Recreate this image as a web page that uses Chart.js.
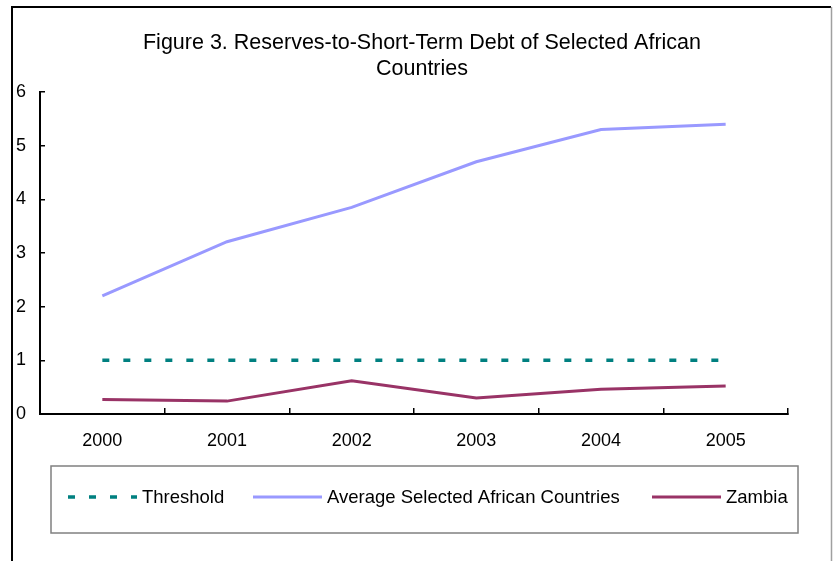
<!DOCTYPE html>
<html>
<head>
<meta charset="utf-8">
<title>Reserves-to-Short-Term Debt</title>
<script src="https://cdn.jsdelivr.net/npm/chart.js@4.4.1/dist/chart.umd.min.js"></script>
<style>
  html, body { margin: 0; padding: 0; background: #fff; }
  canvas { display: block; }
</style>
</head>
<body>
<canvas id="reservesChart" width="833" height="561"></canvas>
<script>
// Data
const years = ['2000', '2001', '2002', '2003', '2004', '2005'];
const threshold = [1, 1, 1, 1, 1, 1];
const averageAfrica = [2.2, 3.21, 3.85, 4.7, 5.3, 5.4];
const zambia = [0.27, 0.24, 0.62, 0.3, 0.46, 0.52];
const yMin = 0;
const yMax = 6;
const yStep = 1;
const titleLines = ['Figure 3. Reserves-to-Short-Term Debt of Selected African', 'Countries'];
const seriesNames = ['Threshold', 'Average Selected African Countries', 'Zambia'];

const FONT = '"Liberation Sans", Arial, sans-serif';

// white page + the outer frame around the figure
const framePlugin = {
    id: 'frame',
    beforeDraw(chart) {
        const ctx = chart.ctx;
        ctx.save();
        ctx.fillStyle = '#fff';
        ctx.fillRect(0, 0, chart.width, chart.height);
        ctx.lineWidth = 2;
        ctx.strokeStyle = '#000';
        ctx.beginPath();
        ctx.moveTo(12, chart.height);
        ctx.lineTo(12, 7);
        ctx.lineTo(831, 7);
        ctx.stroke();
        ctx.strokeStyle = '#a0a0a0';
        ctx.lineWidth = 1.5;
        ctx.beginPath();
        ctx.moveTo(831.5, 7);
        ctx.lineTo(831.5, chart.height);
        ctx.stroke();
        ctx.restore();
    }
};

// two line title, centred over the plot
const titlePlugin = {
    id: 'figTitle',
    afterDraw(chart) {
        const ctx = chart.ctx;
        ctx.save();
        ctx.fillStyle = '#000';
        ctx.font = '21.5px ' + FONT;
        ctx.textAlign = 'center';
        ctx.textBaseline = 'alphabetic';
        ctx.fillText(titleLines[0], 422, 48.5);
        ctx.fillText(titleLines[1], 422, 75);
        ctx.restore();
    }
};

// boxed legend under the x axis, built from the datasets
const legendPlugin = {
    id: 'boxLegend',
    afterDraw(chart) {
        const ctx = chart.ctx;
        const box = { x: 51, y: 466, w: 747, h: 67 };
        const sampleX = [68, 253, 652];
        const sampleLen = 69;
        const midY = box.y + 31;

        ctx.save();
        ctx.strokeStyle = '#808080';
        ctx.lineWidth = 1.5;
        ctx.strokeRect(box.x, box.y, box.w, box.h);

        ctx.font = '18.5px ' + FONT;
        ctx.textBaseline = 'middle';
        ctx.textAlign = 'left';
        chart.data.datasets.forEach(function(ds, i) {
            ctx.strokeStyle = ds.borderColor;
            ctx.lineWidth = ds.borderWidth;
            ctx.setLineDash(ds.borderDash || []);
            ctx.lineCap = 'butt';
            ctx.beginPath();
            ctx.moveTo(sampleX[i], midY);
            ctx.lineTo(sampleX[i] + sampleLen, midY);
            ctx.stroke();
            ctx.setLineDash([]);
            ctx.fillStyle = '#000';
            ctx.fillText(ds.label, sampleX[i] + sampleLen + 5, midY + 1);
        });
        ctx.restore();
    }
};

const config = {
    type: 'line',
    data: {
        labels: years,
        datasets: [{
            label: seriesNames[0],
            data: threshold,
            borderColor: '#008080',
            borderWidth: 3.5,
            borderDash: [7, 14],
            pointRadius: 0,
            tension: 0
        }, {
            label: seriesNames[1],
            data: averageAfrica,
            borderColor: '#9999ff',
            borderWidth: 3,
            pointRadius: 0,
            tension: 0
        }, {
            label: seriesNames[2],
            data: zambia,
            borderColor: '#993366',
            borderWidth: 3,
            pointRadius: 0,
            tension: 0
        }]
    },
    options: {
        responsive: false,
        animation: false,
        layout: {
            padding: { top: 92, right: 45, bottom: 107, left: 0 }
        },
        plugins: {
            legend: { display: false },
            title: { display: false },
            tooltip: { enabled: false }
        },
        scales: {
            x: {
                offset: true,
                grid: {
                    offset: true,
                    drawOnChartArea: false,
                    drawTicks: true,
                    tickLength: -6,
                    color: '#000',
                    lineWidth: 1.5
                },
                border: { color: '#000', width: 2 },
                ticks: {
                    color: '#000',
                    font: { family: FONT, size: 18 },
                    padding: 22,
                    maxRotation: 0
                },
                afterFit: function(scale) { scale.height = 40; }
            },
            y: {
                min: yMin,
                max: yMax,
                grid: {
                    drawOnChartArea: false,
                    drawTicks: true,
                    tickLength: -5,
                    color: '#000',
                    lineWidth: 1.5
                },
                border: { color: '#000', width: 2 },
                ticks: {
                    stepSize: yStep,
                    color: '#000',
                    font: { family: FONT, size: 18 },
                    padding: 19
                },
                afterFit: function(scale) { scale.width = 40; }
            }
        }
    },
    plugins: [framePlugin, titlePlugin, legendPlugin]
};

new Chart(document.getElementById('reservesChart'), config);
</script>
</body>
</html>
